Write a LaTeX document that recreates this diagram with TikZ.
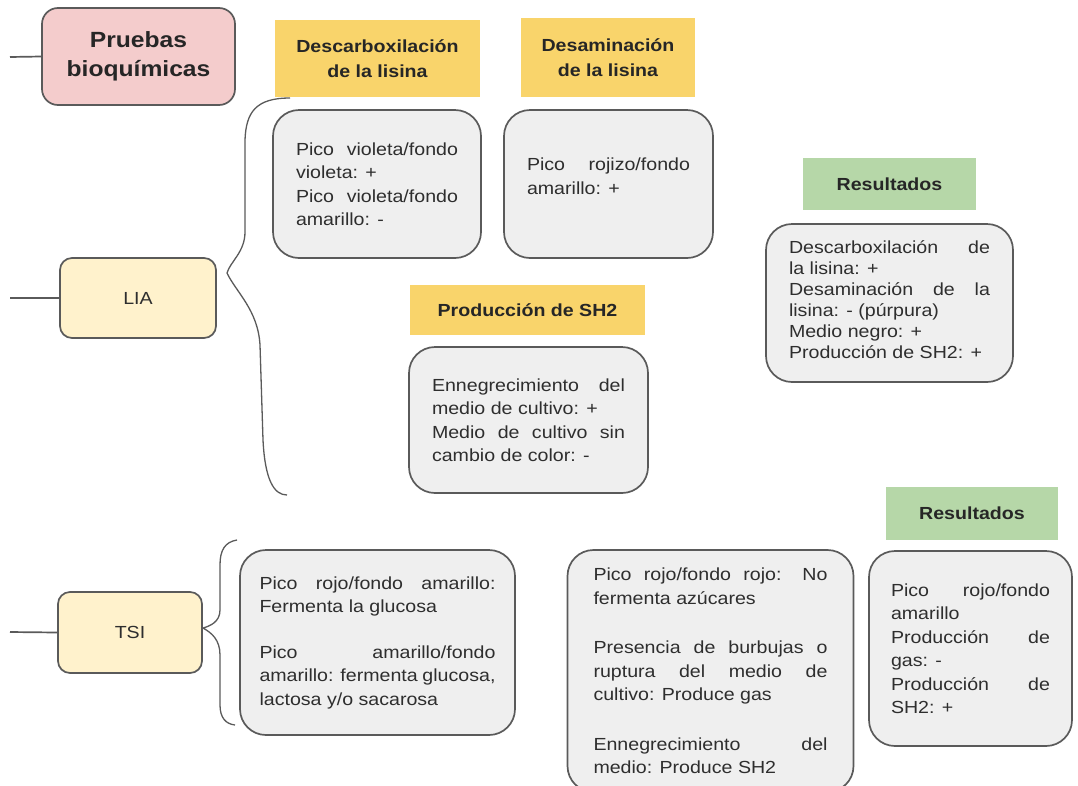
\documentclass[tikz,border=0pt]{standalone}
\usepackage{fontspec}
\setmainfont{Liberation Sans}[FakeStretch=1.12]
\usepackage{xcolor}
\usepackage{tikz}
\usetikzlibrary{positioning}
\setlength{\parindent}{0pt}
\definecolor{rosa}{HTML}{F4CCCC}
\definecolor{crema}{HTML}{FFF2CC}
\definecolor{amarillo}{HTML}{F9D46B}
\definecolor{verde}{HTML}{B6D7A8}
\definecolor{gris}{HTML}{EFEFEF}
\definecolor{borde}{HTML}{5A5A5A}
\definecolor{texto}{HTML}{2E2E2E}

\begin{document}
\begin{tikzpicture}[x=1pt, y=-1pt,
      every node/.style = {draw=borde, line width=1.7pt, text=texto, font=\fontsize{17.5}{23.5}\selectfont},
      titulo/.style = {fill=rosa, rounded corners=16pt, align=center, minimum width=193pt, minimum height=97pt,
        font=\fontsize{22}{29}\selectfont\bfseries, text=black!85},
      prueba/.style = {fill=crema, rounded corners=12pt},
      cabecera/.style = {draw=none, fill=amarillo, align=center, text=black!85,
        font=\fontsize{17.5}{25}\selectfont\bfseries},
      resultado/.style = {cabecera, fill=verde},
      caja/.style = {fill=gris, rounded corners=26pt, align=justify, inner xsep=23pt, inner ysep=0pt}
    ]
    \useasboundingbox (0,0) rectangle (1078,785);
    % columna izquierda
    \node[titulo] (pruebas) at (138.5,56.5) {Pruebas\\bioquímicas};
    \node[prueba, minimum width=156pt, minimum height=80pt] (lia) at (138,298) {LIA};
    \node[prueba, minimum width=144pt, minimum height=81pt] (tsi) at (130,632.5) {TSI};
    \coordinate (pruebas-in) at (10,57);
    \coordinate (lia-in) at (10,298);
    \coordinate (tsi-in) at (10,632);
    \draw[borde, line width=1.7pt] (pruebas-in) -- (pruebas.west);
    \draw[borde, line width=1.7pt] (lia-in) -- (lia.west);
    \draw[borde, line width=1.7pt] (tsi-in) -- (tsi.west);

    % LIA
    \node[cabecera, minimum width=205pt, minimum height=77pt] (h-desc) at (377.5,58.5) {Descarboxilación\\de la lisina};
    \node[cabecera, minimum width=174pt, minimum height=79pt] (h-desa) at (608,57.5) {Desaminación\\de la lisina};
    \node[caja, text width=162pt, minimum height=148pt] (desc) at (377,184)
      {Pico violeta/fondo\linebreak violeta: +\par Pico violeta/fondo\linebreak amarillo: -};
    \node[caja, text width=163pt, minimum height=148pt] (desa) at (608.5,184)
      {Pico rojizo/fondo\linebreak amarillo: +\par\vspace{16pt}};
    \node[cabecera, minimum width=235pt, minimum height=50pt] (h-sh) at (527.5,310) {Producción de SH2};
    \node[caja, text width=193pt, minimum height=146pt] (sh) at (528.5,420)
      {Ennegrecimiento del\linebreak medio de cultivo: +\par Medio de cultivo sin\linebreak cambio de color: -};
    \node[resultado, minimum width=173pt, minimum height=52pt] (h-res-lia) at (889.5,184) {Resultados};
    \node[caja, text width=201pt, minimum height=158pt, font=\fontsize{17.5}{21}\selectfont] (res-lia) at (889.5,303)
      {Descarboxilación de\linebreak la lisina: +\par Desaminación de la\linebreak lisina: - (púrpura)\par
       Medio negro: +\par Producción de SH2: +\par\vspace{6pt}};
    \coordinate (lia-top) at (290,98);
    \coordinate (lia-bot) at (287,495);
    \draw[borde, line width=1.3pt] (lia-top) .. controls (256,98) and (246,112) .. (245,140)
      -- (245,232) .. controls (245,252) and (230,262) .. (227,273)
      .. controls (236,292) and (258,310) .. (260,345) -- (263,440)
      .. controls (265,480) and (274,495) .. (lia-bot);

    % TSI
    \node[caja, text width=236pt, inner xsep=19.5pt, minimum height=185pt] (tsi-a) at (377.5,642.5)
      {Pico rojo/fondo amarillo:\linebreak Fermenta la glucosa\par\vspace{22pt}
       Pico amarillo/fondo\linebreak amarillo: fermenta glucosa,\linebreak lactosa y/o sacarosa};
    \node[caja, text width=234pt, inner xsep=26pt, minimum height=242pt] (tsi-b) at (710.5,671)
      {Pico rojo/fondo rojo: No\linebreak fermenta azúcares\par\vspace{26pt}
       Presencia de burbujas o\linebreak ruptura del medio de\linebreak cultivo: Produce gas\par\vspace{26pt}
       Ennegrecimiento del\linebreak medio: Produce SH2};
    \node[resultado, minimum width=172pt, minimum height=53pt] (h-res-tsi) at (972,513.5) {Resultados};
    \node[caja, text width=159pt, inner xsep=22pt, minimum height=195pt] (res-tsi) at (970.5,648.5)
      {Pico rojo/fondo\linebreak amarillo\par Producción de\linebreak gas: -\par Producción de\linebreak SH2: +};
    \coordinate (tsi-top) at (237,540);
    \coordinate (tsi-bot) at (235,725);
    \draw[borde, line width=1.3pt] (tsi-top) .. controls (225,542) and (220,550) .. (220,565)
      -- (220,610) .. controls (220,622) and (210,626) .. (203,628)
      .. controls (212,633) and (220,640) .. (220,655) -- (220,705)
      .. controls (220,718) and (226,724) .. (tsi-bot);
  \end{tikzpicture}
\end{document}
